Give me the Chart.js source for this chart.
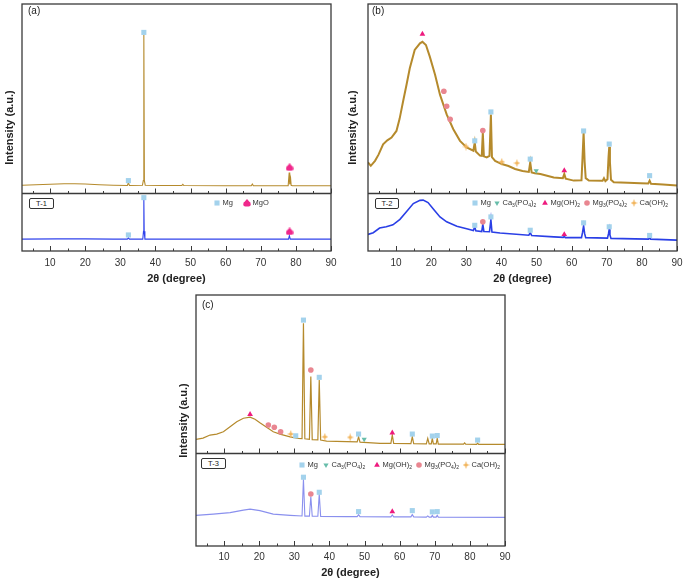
<!DOCTYPE html>
<html>
<head>
<meta charset="utf-8">
<title>XRD patterns T-1 / T-2 / T-3</title>
<script src="https://cdn.jsdelivr.net/npm/chart.js@4.4.1/dist/chart.umd.min.js"></script>
<style>
  html, body { margin: 0; padding: 0; background: #fff; }
  body { position: relative; width: 685px; height: 580px; overflow: hidden;
         font-family: Arial, "Liberation Sans", Helvetica, sans-serif; color: #222; }
  canvas { position: absolute; }
  .tag  { position: absolute; font-size: 10px; line-height: 12px; }
  .tbox { position: absolute; height: 9px; border: 1px solid #333; border-radius: 2px;
          font-size: 7.5px; line-height: 9px; text-align: center; background: #fff; }
  .lg   { position: absolute; font-size: 7.5px; line-height: 10px; white-space: nowrap; color: #333; }
  .lg sub { font-size: 5px; vertical-align: -1.5px; line-height: 0; }
</style>
</head>
<body>
<canvas id="chartA" width="340" height="290" style="left:0;top:0"></canvas>
<canvas id="chartB" width="345" height="290" style="left:340px;top:0"></canvas>
<canvas id="chartC" width="350" height="290" style="left:170px;top:290px"></canvas>

<div class="tag" style="left:28px;top:5px">(a)</div>
<div class="tag" style="left:372px;top:5px">(b)</div>
<div class="tag" style="left:202px;top:299px">(c)</div>
<div class="tbox" style="left:29px;top:198px;width:23px">T-1</div>
<div class="tbox" style="left:375px;top:198px;width:22px">T-2</div>
<div class="tbox" style="left:201px;top:458px;width:23px">T-3</div>

<script>
/* ---- axis ticks ---- */
const majorTicks = [10, 20, 30, 40, 50, 60, 70, 80, 90];
const minorTicks = [5, 15, 25, 35, 45, 55, 65, 75, 85];

/* ---- (a) T-1 ---- */
const aTopDeg = [2, 6, 10, 14, 17, 20, 24, 28, 32.0, 32.3, 32.6, 36.3, 36.55, 36.7, 36.85, 37.1, 42, 47.5, 47.8, 48.1, 60, 67.3, 67.6, 67.9, 77.8, 78.1, 78.25, 78.5, 78.65, 79.0, 84, 90];
const aTopInt = [26.6, 26.8, 27.0, 27.2, 27.2, 27.1, 26.8, 26.6, 26.5, 27.6, 26.5, 26.6, 28.5, 87.4, 28.5, 26.6, 26.5, 26.5, 27.0, 26.5, 26.4, 26.4, 27.1, 26.4, 26.4, 31.8, 27.0, 29.3, 26.6, 26.4, 26.4, 26.4];
const aLowDeg = [2, 12, 20, 28, 32.0, 32.3, 32.6, 36.4, 36.6, 36.7, 36.8, 37.0, 50, 77.9, 78.15, 78.4, 90];
const aLowInt = [4.8, 4.9, 4.9, 4.8, 4.8, 5.3, 4.8, 4.8, 8.0, 20.9, 8.0, 4.8, 4.8, 4.8, 6.2, 4.8, 4.8];
const aTopMgDeg = [32.3, 36.7],  aTopMgInt = [28.5, 88.5];
const aTopMgODeg = [78.2],       aTopMgOInt = [33.9];
const aLowMgDeg = [32.3, 36.7],  aLowMgInt = [6.5, 21.6];
const aLowMgODeg = [78.2],       aLowMgOInt = [7.9];

/* ---- (b) T-2 ---- */
const bTopDeg = [2, 2.8, 4.0, 5.0, 6.3, 7.5, 8.7, 10.1, 11.0, 12.0, 13.0, 13.9, 15.3, 16.8, 17.5, 18.5, 19.6, 21.1, 22.5, 24.4, 26.3, 28.2, 30.1, 32.0, 32.4, 32.7, 33.9, 34.4, 34.7, 35.0, 35.8, 36.6, 37.0, 37.3, 38.2, 40.1, 42.0, 43.9, 46.0, 47.8, 48.2, 48.6, 49.5, 51.1, 54.9, 57.5, 57.9, 58.3, 60.6, 62.8, 63.1, 63.4, 63.7, 64.0, 64.9, 68.8, 69.2, 69.6, 70.2, 70.5, 70.7, 70.9, 71.2, 72.0, 76.0, 79.6, 81.8, 82.2, 82.6, 86.0, 90];
const bTopInt = [35.9, 34.5, 36.5, 39.0, 43.2, 44.8, 45.9, 48.6, 53.5, 60.6, 67.5, 74.0, 81.4, 84.1, 84.7, 83.4, 78.7, 71.4, 63.3, 55.3, 49.3, 44.6, 41.9, 40.6, 43.9, 40.3, 38.6, 38.5, 47.9, 38.3, 37.9, 38.5, 55.3, 38.0, 36.5, 35.2, 34.4, 33.2, 32.4, 32.0, 35.9, 31.8, 31.5, 31.2, 29.8, 29.5, 31.2, 29.3, 28.5, 28.6, 38.0, 47.9, 36.0, 29.5, 28.5, 28.4, 29.5, 28.3, 29.0, 38.0, 42.2, 36.0, 28.8, 27.8, 27.6, 27.4, 27.3, 28.5, 27.2, 26.9, 26.5];
const bLowDeg = [2, 3.5, 5.3, 7.2, 9.1, 11.1, 13.0, 14.9, 16.8, 17.7, 19.1, 20.6, 22.5, 24.4, 27.3, 30.1, 32.0, 32.4, 32.7, 34.4, 34.7, 35.0, 36.6, 37.0, 37.3, 39.6, 47.8, 48.2, 48.6, 54.9, 57.6, 57.9, 58.2, 62.8, 63.1, 63.4, 63.7, 64.0, 70.2, 70.5, 70.7, 70.9, 71.2, 78.0, 81.9, 82.2, 82.5, 90];
const bLowInt = [6.7, 7.4, 9.3, 9.8, 10.6, 12.8, 16.0, 19.2, 20.5, 20.6, 19.6, 17.0, 13.8, 11.8, 10.0, 9.0, 8.3, 9.8, 8.2, 7.9, 10.8, 7.9, 7.8, 12.7, 7.7, 7.3, 6.4, 7.4, 6.3, 5.7, 5.5, 6.0, 5.4, 5.4, 7.5, 10.2, 7.0, 5.4, 5.2, 7.0, 8.8, 6.5, 5.1, 4.9, 4.8, 5.4, 4.8, 4.4];
const bTopMgDeg = [32.4, 37.0, 48.2, 63.4, 70.7, 82.2], bTopMgInt = [44.6, 56.3, 37.2, 48.6, 43.3, 30.5];
const bTopCaPDeg = [49.9],                bTopCaPInt = [32.5];
const bTopMgOHDeg = [17.5, 57.9],         bTopMgOHInt = [87.8, 32.6];
const bTopMgPDeg = [23.6, 24.4, 25.4, 34.7], bTopMgPInt = [64.7, 58.6, 53.3, 48.8];
const bTopCaOHDeg = [29.9, 40.1, 44.4],   bTopCaOHInt = [42.3, 36.1, 35.6];
const bLowMgDeg = [32.4, 37.0, 48.2, 63.4, 70.7, 82.2], bLowMgInt = [10.4, 13.8, 8.4, 11.4, 9.8, 6.3];
const bLowMgPDeg = [34.7],  bLowMgPInt = [11.8];
const bLowMgOHDeg = [57.9], bLowMgOHInt = [6.7];

/* ---- (c) T-3 ---- */
const cTopDeg = [2, 4, 6, 7.9, 9.8, 11.7, 13.6, 15.5, 17.4, 18.8, 20.2, 22.1, 24.0, 25.9, 28.8, 31.1, 32.2, 32.6, 33.0, 34.3, 34.7, 35.1, 36.7, 37.1, 37.5, 39.2, 44.9, 47.9, 48.3, 48.7, 54.4, 57.5, 57.9, 58.3, 63.2, 63.6, 64.0, 67.6, 68.0, 68.4, 69.0, 69.3, 69.6, 70.4, 70.7, 71.0, 78.2, 78.5, 78.8, 81.9, 82.2, 82.5, 90];
const cTopInt = [42.5, 43.0, 44.2, 44.6, 45.5, 47.5, 49.5, 50.9, 51.3, 50.5, 49.1, 47.3, 45.5, 44.6, 43.5, 42.9, 42.8, 88.7, 42.7, 42.5, 67.5, 42.4, 42.3, 66.1, 42.2, 41.8, 41.6, 41.5, 43.5, 41.4, 40.9, 40.9, 44.2, 40.9, 40.8, 43.5, 40.8, 40.7, 42.9, 40.7, 40.7, 42.9, 40.7, 40.7, 42.9, 40.6, 40.6, 41.1, 40.6, 40.5, 41.0, 40.5, 40.5];
const cLowDeg = [2, 6.9, 11.7, 15.5, 17.4, 20.2, 24.0, 28.8, 32.2, 32.6, 33.0, 34.3, 34.7, 35.1, 36.7, 37.1, 37.5, 44.9, 47.9, 48.3, 48.7, 57.5, 57.9, 58.3, 63.2, 63.6, 64.0, 67.6, 68.0, 68.4, 69.0, 69.3, 69.6, 70.4, 70.7, 71.0, 90];
const cLowInt = [12.2, 12.7, 13.3, 14.3, 14.7, 14.1, 12.7, 12.2, 11.95, 26.6, 11.9, 11.9, 19.7, 11.85, 11.85, 20.7, 11.8, 11.7, 11.7, 12.5, 11.7, 11.6, 12.4, 11.6, 11.6, 12.5, 11.6, 11.5, 12.0, 11.5, 11.5, 12.2, 11.5, 11.5, 12.2, 11.5, 11.4];
const cTopMgDeg = [30.4, 32.6, 37.1, 48.3, 63.6, 69.3, 70.7, 82.2], cTopMgInt = [43.9, 90.0, 67.2, 44.6, 44.6, 43.8, 44.0, 42.2];
const cTopCaPDeg = [49.9],                cTopCaPInt = [42.5];
const cTopMgOHDeg = [17.4, 57.9],         cTopMgOHInt = [52.5, 45.1];
const cTopMgPDeg = [22.6, 24.3, 26.1, 34.7], cTopMgPInt = [48.2, 47.3, 45.5, 70.1];
const cTopCaOHDeg = [29.0, 38.7, 45.9],   cTopCaOHInt = [44.6, 43.5, 43.3];
const cLowMgDeg = [32.6, 37.1, 48.3, 63.6, 69.3, 70.7], cLowMgInt = [27.4, 21.4, 13.7, 14.1, 13.6, 13.7];
const cLowMgPDeg = [34.7],  cLowMgPInt = [20.7];
const cLowMgOHDeg = [57.9], cLowMgOHInt = [13.7];

/* ---- styling ---- */
const FONT = 'Arial, "Liberation Sans", Helvetica, sans-serif';
const GOLD = '#b58a2c';
Chart.defaults.font.family = FONT;
Chart.defaults.color = '#333';

// little custom marker images (MgO club, Ca(OH)2 four-point star)
function clubIcon(color) {
  const c = document.createElement('canvas'); c.width = 8; c.height = 8;
  const g = c.getContext('2d'); g.fillStyle = color;
  g.beginPath(); g.moveTo(4, 0); g.lineTo(7.5, 4); g.lineTo(0.5, 4); g.closePath(); g.fill();
  g.beginPath(); g.arc(2.4, 5.3, 2.2, 0, Math.PI * 2); g.arc(5.6, 5.3, 2.2, 0, Math.PI * 2); g.fill();
  return c;
}
function starIcon(color) {
  const c = document.createElement('canvas'); c.width = 7; c.height = 8;
  const g = c.getContext('2d'); g.fillStyle = color;
  g.beginPath();
  g.moveTo(3.5, 0); g.lineTo(4.5, 3); g.lineTo(7, 4); g.lineTo(4.5, 5);
  g.lineTo(3.5, 8); g.lineTo(2.5, 5); g.lineTo(0, 4); g.lineTo(2.5, 3);
  g.closePath(); g.fill();
  return c;
}

const MARK = {
  Mg:   { style: 'rect',     r: 3.6, color: '#a3d2ec' },
  MgO:  { style: () => clubIcon('#f0288c'), r: 4, color: '#f0288c' },
  CaP:  { style: 'triangle', r: 3.0, color: '#67bdaa', rot: 180 },
  MgOH: { style: 'triangle', r: 3.3, color: '#ee1a7e' },
  MgP:  { style: 'circle',   r: 2.8, color: '#e98690' },
  CaOH: { style: () => starIcon('#f2b55c'), r: 4, color: '#f2b55c' },
};
const styleOf = k => (typeof MARK[k].style === 'function' ? MARK[k].style() : MARK[k].style);

const pts = (xs, ys) => xs.map((x, i) => ({ x, y: ys[i] }));
const trace = (xs, ys, color, w) => ({
  data: pts(xs, ys), showLine: true, borderColor: color, borderWidth: w,
  pointRadius: 0, tension: 0, order: 2,
});
const mark = (kind, xs, ys) => ({
  data: pts(xs, ys), showLine: false, pointStyle: styleOf(kind),
  pointRadius: MARK[kind].r, rotation: MARK[kind].rot || 0,
  backgroundColor: MARK[kind].color, borderWidth: 0, order: 1,
});

/* frame, divider between the two layers, inward ticks */
const framePlugin = {
  id: 'frame',
  afterDatasetsDraw(chart, args, opts) {
    const { ctx, chartArea: a, scales: { x, y } } = chart;
    const mid = Math.round(y.getPixelForValue(opts.split)) + 0.5;
    ctx.save();
    ctx.strokeStyle = '#3a3a3a';
    ctx.lineWidth = 1.3;
    ctx.strokeRect(a.left, a.top, a.width, a.height);
    ctx.beginPath(); ctx.moveTo(a.left, mid); ctx.lineTo(a.right, mid); ctx.stroke();
    ctx.lineWidth = 1;
    ctx.beginPath();
    [a.bottom, mid].forEach(base => {
      majorTicks.forEach(v => { const p = Math.round(x.getPixelForValue(v)) + 0.5; ctx.moveTo(p, base); ctx.lineTo(p, base - 5); });
      minorTicks.forEach(v => { const p = Math.round(x.getPixelForValue(v)) + 0.5; ctx.moveTo(p, base); ctx.lineTo(p, base - 2.5); });
    });
    ctx.stroke();
    ctx.restore();
  }
};

function makePanel(id, o) {
  return new Chart(document.getElementById(id), {
    type: 'scatter',
    data: { datasets: o.datasets },
    options: {
      responsive: false, animation: false, devicePixelRatio: 1, events: [],
      layout: { padding: o.pad },
      plugins: { legend: { display: false }, tooltip: { enabled: false }, frame: { split: o.split } },
      scales: {
        x: {
          type: 'linear', min: 2, max: 90,
          afterBuildTicks: s => { s.ticks = majorTicks.map(v => ({ value: v })); },
          // fixed height, and no extra room for the "90" label overhang
          afterFit: s => { s.height = o.xh; s.paddingLeft = 0; s.paddingRight = 0; },
          grid: { display: false, drawTicks: false }, border: { display: false },
          ticks: { padding: o.tickPad, maxRotation: 0, font: { size: 10 }, color: '#333' },
          title: { display: true, text: '2θ (degree)', color: '#222',
                   font: { size: 11, weight: 'bold' }, padding: { top: 0, bottom: o.titlePad } }
        },
        y: {
          min: 0, max: 100,
          afterFit: s => { s.width = o.yw; s.paddingTop = 0; s.paddingBottom = 0; },
          grid: { display: false, drawTicks: false }, border: { display: false },
          ticks: { display: false },
          title: { display: true, text: 'Intensity (a.u.)', color: '#222',
                   font: { size: 11, weight: 'bold' }, padding: { top: o.yPad, bottom: 0 } }
        }
      }
    },
    plugins: [framePlugin]
  });
}

makePanel('chartA', {
  pad: { left: 0, top: 2, right: 9, bottom: 0 }, yw: 22, xh: 39, tickPad: 6, titlePad: 4, yPad: 3, split: 23.3,
  datasets: [
    trace(aTopDeg, aTopInt, GOLD, 1.1),
    trace(aLowDeg, aLowInt, '#3143ec', 1.1),
    mark('Mg', aTopMgDeg, aTopMgInt), mark('MgO', aTopMgODeg, aTopMgOInt),
    mark('Mg', aLowMgDeg, aLowMgInt), mark('MgO', aLowMgODeg, aLowMgOInt),
  ]
});

makePanel('chartB', {
  pad: { left: 0, top: 2, right: 8, bottom: 0 }, yw: 28, xh: 39, tickPad: 6, titlePad: 4, yPad: 6.5, split: 23.3,
  datasets: [
    trace(bTopDeg, bTopInt, GOLD, 2),
    trace(bLowDeg, bLowInt, '#2a3fe6', 1.6),
    mark('Mg', bTopMgDeg, bTopMgInt), mark('CaP', bTopCaPDeg, bTopCaPInt),
    mark('MgOH', bTopMgOHDeg, bTopMgOHInt), mark('MgP', bTopMgPDeg, bTopMgPInt),
    mark('CaOH', bTopCaOHDeg, bTopCaOHInt),
    mark('Mg', bLowMgDeg, bLowMgInt), mark('MgP', bLowMgPDeg, bLowMgPInt),
    mark('MgOH', bLowMgOHDeg, bLowMgOHInt),
  ]
});

makePanel('chartC', {
  pad: { left: 0, top: 5, right: 15, bottom: 0 }, yw: 26, xh: 34, tickPad: 5, titlePad: 0, yPad: 7, split: 37.1,
  datasets: [
    trace(cTopDeg, cTopInt, GOLD, 1.2),
    trace(cLowDeg, cLowInt, '#8a90ee', 1.1),
    mark('Mg', cTopMgDeg, cTopMgInt), mark('CaP', cTopCaPDeg, cTopCaPInt),
    mark('MgOH', cTopMgOHDeg, cTopMgOHInt), mark('MgP', cTopMgPDeg, cTopMgPInt),
    mark('CaOH', cTopCaOHDeg, cTopCaOHInt),
    mark('Mg', cLowMgDeg, cLowMgInt), mark('MgP', cLowMgPDeg, cLowMgPInt),
    mark('MgOH', cLowMgOHDeg, cLowMgOHInt),
  ]
});

/* ---- in-plot legends (icon centre x, row y) ---- */
const NAMES = {
  Mg: 'Mg', MgO: 'MgO',
  CaP: 'Ca<sub>3</sub>(PO<sub>4</sub>)<sub>2</sub>',
  MgOH: 'Mg(OH)<sub>2</sub>',
  MgP: 'Mg<sub>3</sub>(PO<sub>4</sub>)<sub>2</sub>',
  CaOH: 'Ca(OH)<sub>2</sub>',
};
const legendRows = [
  { y: 203, items: [['Mg', 217], ['MgO', 247]] },
  { y: 203, items: [['Mg', 475], ['CaP', 497], ['MgOH', 545], ['MgP', 587], ['CaOH', 634]] },
  { y: 465, items: [['Mg', 302], ['CaP', 326], ['MgOH', 377], ['MgP', 419], ['CaOH', 466]] },
];
function legendIcon(kind) {
  const c = document.createElement('canvas'); c.width = 10; c.height = 10;
  const g = c.getContext('2d'); g.fillStyle = MARK[kind].color;
  Chart.helpers.drawPoint(g, { pointStyle: styleOf(kind), radius: MARK[kind].r,
                               rotation: MARK[kind].rot || 0, borderWidth: 0 }, 5, 5);
  return c;
}
legendRows.forEach(row => row.items.forEach(([kind, cx]) => {
  const ic = legendIcon(kind);
  ic.style.left = (cx - 5) + 'px'; ic.style.top = (row.y - 5) + 'px';
  document.body.appendChild(ic);
  const t = document.createElement('div');
  t.className = 'lg'; t.innerHTML = NAMES[kind];
  t.style.left = (cx + 5.5) + 'px'; t.style.top = (row.y - 5) + 'px';
  document.body.appendChild(t);
}));
</script>
</body>
</html>
